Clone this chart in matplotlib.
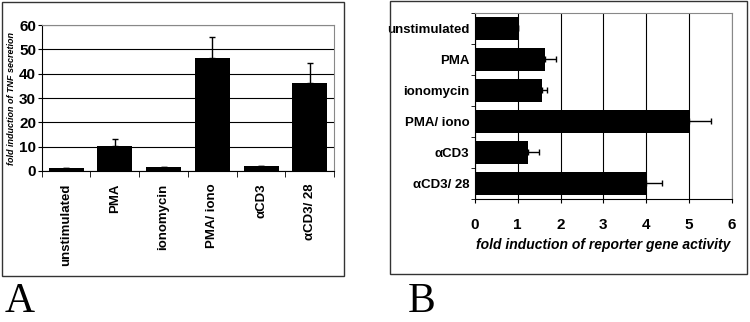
import matplotlib
matplotlib.use("Agg")
import matplotlib.pyplot as plt
from matplotlib.patches import Rectangle
import numpy as np

categories = ["unstimulated", "PMA", "ionomycin", "PMA/ iono", "\u03b1CD3", "\u03b1CD3/ 28"]
tnf_values = [1.2, 10.2, 1.8, 46.5, 2.2, 36.0]
tnf_errors = [0.0, 2.8, 0.0, 8.5, 0.0, 8.5]
reporter_values = [1.0, 1.65, 1.57, 5.0, 1.25, 4.0]
reporter_errors = [0.0, 0.25, 0.11, 0.52, 0.25, 0.36]

plt.rcParams['font.family'] = ['Liberation Sans', 'DejaVu Sans']

fig = plt.figure(figsize=(7.5, 3.22), dpi=100)

# Panel frames
fig.add_artist(Rectangle((0.0027, 0.143), 0.456, 0.851, transform=fig.transFigure,
                         fill=False, edgecolor='#333333', linewidth=1.0))
fig.add_artist(Rectangle((0.52, 0.149), 0.476, 0.849, transform=fig.transFigure,
                         fill=False, edgecolor='#333333', linewidth=1.0))

# Panel A
axA = fig.add_axes([0.0556, 0.469, 0.390, 0.453])
x = np.arange(len(categories))
axA.bar(x, tnf_values, width=0.72, color='black', zorder=3)
axA.errorbar(x, tnf_values, yerr=[np.zeros(len(tnf_errors)), tnf_errors], fmt='none',
             ecolor='black', elinewidth=1.0, capsize=2.5, capthick=1.0, zorder=4)
axA.set_xlim(-0.5, len(categories) - 0.5)
axA.set_ylim(0, 60)
axA.set_yticks(range(0, 61, 10))
axA.set_yticklabels([str(v) for v in range(0, 61, 10)], fontsize=11, fontweight='bold')
axA.yaxis.grid(True, color='black', linewidth=0.8, zorder=0)
axA.set_axisbelow(True)
axA.set_xticks(x)
axA.set_xticklabels(categories, rotation=90, fontsize=9.5, fontweight='bold')
axA.tick_params(axis='x', length=0, pad=9)
axA.set_xticks(np.arange(-0.5, len(categories), 1), minor=True)
axA.tick_params(axis='x', which='minor', length=4, direction='out')
axA.tick_params(axis='y', length=3, direction='out', pad=1)
for s in ['left', 'bottom', 'top', 'right']:
    axA.spines[s].set_linewidth(0.8)
    axA.spines[s].set_color('black')
axA.spines['top'].set_color('#888888')
axA.spines['right'].set_color('#888888')
axA.set_ylabel("fold induction of TNF secretion", fontsize=6.5, fontweight='bold',
               fontstyle='italic', labelpad=2)

# Panel B
axB = fig.add_axes([0.633, 0.382, 0.343, 0.578])
y = np.arange(len(categories))
axB.barh(y, reporter_values, height=0.74, color='black', zorder=3)
axB.errorbar(reporter_values, y, xerr=[np.zeros(len(reporter_errors)), reporter_errors],
             fmt='none', ecolor='black', elinewidth=1.0, capsize=2.5, capthick=1.0, zorder=4)
axB.set_ylim(len(categories) - 0.5, -0.5)
axB.set_xlim(0, 6)
axB.set_xticks(range(0, 7))
axB.set_xticklabels([str(v) for v in range(0, 7)], fontsize=11, fontweight='bold')
axB.xaxis.grid(True, color='black', linewidth=0.8, zorder=0)
axB.set_axisbelow(True)
axB.set_yticks(y)
axB.set_yticklabels(categories, fontsize=9.5, fontweight='bold')
axB.tick_params(axis='y', length=0, pad=4)
axB.set_yticks(np.arange(-0.5, len(categories), 1), minor=True)
axB.tick_params(axis='y', which='minor', length=3, direction='out')
axB.tick_params(axis='x', length=3, direction='out', pad=11)
for s in ['left', 'bottom', 'top', 'right']:
    axB.spines[s].set_linewidth(0.8)
    axB.spines[s].set_color('black')
axB.spines['top'].set_color('#888888')
axB.spines['right'].set_color('#888888')
axB.set_xlabel("fold induction of reporter gene activity", fontsize=10, fontweight='bold',
               fontstyle='italic', labelpad=4)

# Panel letters
fig.text(0.006, 0.004, "A", fontsize=30, family='Liberation Serif', ha='left', va='bottom')
fig.text(0.543, 0.004, "B", fontsize=30, family='Liberation Serif', ha='left', va='bottom')

fig.savefig("out.png", dpi=100)
